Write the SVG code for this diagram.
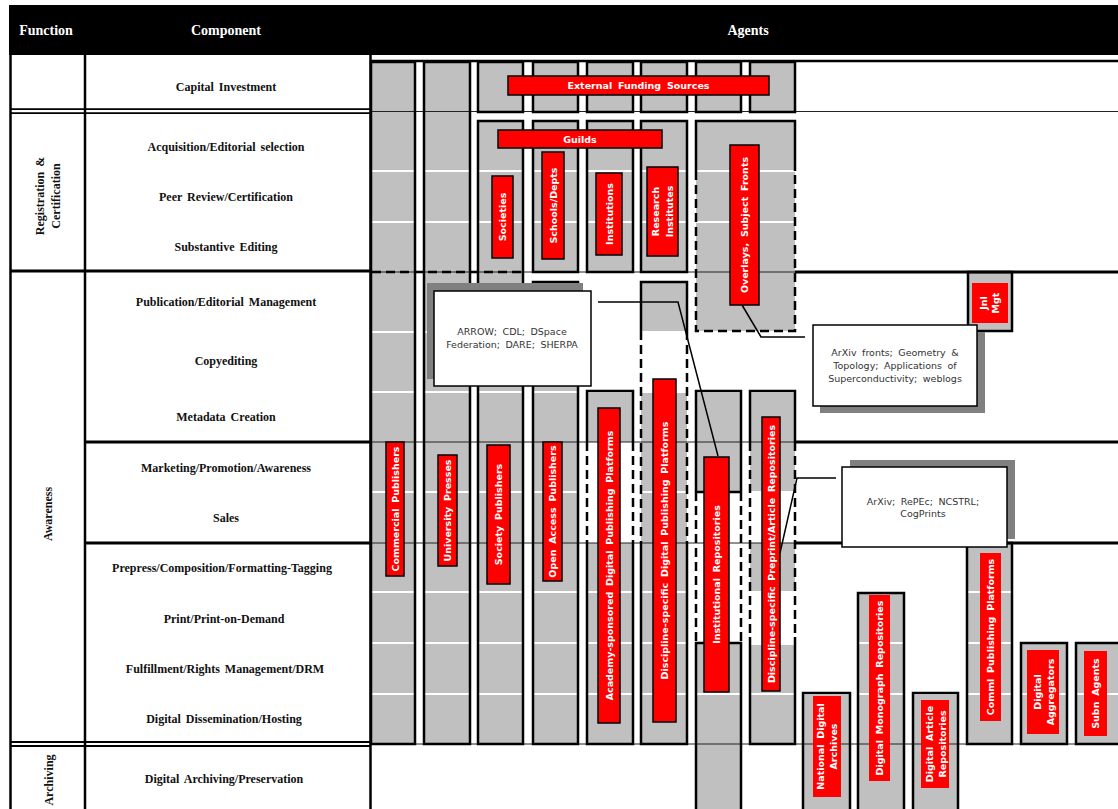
<svg xmlns="http://www.w3.org/2000/svg" width="1118" height="809" viewBox="0 0 1118 809">
<style>
.hdr{fill:#fff;font-family:"Liberation Serif",serif;font-weight:bold;font-size:14px;text-anchor:middle}
.comp{fill:#111;font-family:"Liberation Serif",serif;font-weight:bold;font-size:12px;text-anchor:middle;word-spacing:2px}
.tl{stroke:#000;fill:none}
.g{fill:#c0c0c0}
.bd{fill:none;stroke:#000;stroke-width:2.5}
.ds{fill:none;stroke:#000;stroke-width:2.5;stroke-dasharray:9 5}
.wl{stroke:#fff;stroke-width:2}
.thin{stroke:#222;stroke-width:1}
.thick{stroke:#000;stroke-width:3}
.bar{fill:#ff0000;stroke:#000;stroke-width:1.5}
.barn{fill:#ff0000}
.bt{fill:#fff;font-family:"DejaVu Sans",sans-serif;font-weight:bold;font-size:9.5px;text-anchor:middle;word-spacing:2.5px}
.sh{fill:#808080}
.cb{fill:#fff;stroke:#000;stroke-width:1.5}
.ct{fill:#333;font-family:"DejaVu Sans",sans-serif;font-size:9.5px;text-anchor:middle;word-spacing:2.5px}
.conn{fill:none;stroke:#000;stroke-width:1.5}
</style>

<!-- header -->
<g id="header">
<rect x="9" y="5" width="1109" height="50" fill="#000"/>
<text class="hdr" x="46" y="35">Function</text>
<text class="hdr" x="226" y="35">Component</text>
<text class="hdr" x="748" y="35">Agents</text>
</g>

<!-- table -->
<g id="table">
<path class="tl" stroke-width="2.5" d="M10.5,55 V809 M85,55 V809 M370.5,55 V809"/>
<path class="tl" stroke-width="1.8" d="M10,109.2 H370 M10,113.2 H370 M10,742 H370 M10,746 H370"/>
<path class="tl" stroke-width="3" d="M10,271 H370 M85,442 H370 M85,543 H370"/>
<text class="comp" x="226" y="91">Capital Investment</text>
<text class="comp" x="226" y="151">Acquisition/Editorial  selection</text>
<text class="comp" x="226" y="201">Peer Review/Certification</text>
<text class="comp" x="226" y="251">Substantive Editing</text>
<text class="comp" x="226" y="306">Publication/Editorial  Management</text>
<text class="comp" x="226" y="365">Copyediting</text>
<text class="comp" x="226" y="421">Metadata Creation</text>
<text class="comp" x="226" y="472">Marketing/Promotion/Awareness</text>
<text class="comp" x="226" y="522">Sales</text>
<text class="comp" x="222" y="572">Prepress/Composition/Formatting-Tagging</text>
<text class="comp" x="224" y="623">Print/Print-on-Demand</text>
<text class="comp" x="225" y="673">Fulfillment/Rights  Management/DRM</text>
<text class="comp" x="224" y="723">Digital Dissemination/Hosting</text>
<text class="comp" x="224" y="783">Digital Archiving/Preservation</text>
<g transform="translate(48,196) rotate(-90)">
<text class="comp" x="0" y="-4">Registration &amp;</text>
<text class="comp" x="0" y="12">Certification</text>
</g>
<text class="comp" transform="translate(48,514) rotate(-90)" y="4">Awareness</text>
<text class="comp" transform="translate(49,780) rotate(-90)" y="4">Archiving</text>
</g>

<!-- gray fills -->
<g id="fills" class="g">
<rect x="371" y="62" width="44" height="682"/>
<rect x="424" y="62" width="46" height="682"/>
<rect x="478" y="62" width="45" height="50"/><rect x="478" y="121" width="45" height="623"/>
<rect x="533" y="62" width="45" height="50"/><rect x="533" y="121" width="45" height="151"/><rect x="533" y="282" width="45" height="462"/>
<rect x="587" y="62" width="46" height="50"/><rect x="587" y="121" width="46" height="151"/><rect x="587" y="391" width="46" height="51"/><rect x="587" y="543" width="46" height="201"/>
<rect x="641" y="62" width="46" height="50"/><rect x="641" y="121" width="46" height="151"/><rect x="641" y="282" width="46" height="50"/><rect x="641" y="392" width="46" height="352"/>
<rect x="696" y="62" width="45" height="50"/><rect x="750" y="62" width="45" height="50"/>
<rect x="696" y="121" width="99" height="210"/>
<rect x="696" y="391" width="45" height="101"/><rect x="696" y="643" width="45" height="170"/>
<rect x="750" y="391" width="45" height="101"/><rect x="750" y="543" width="45" height="49"/><rect x="750" y="645" width="45" height="99"/>
<rect x="968" y="272" width="44" height="59"/>
<rect x="967" y="543" width="45" height="201"/>
<rect x="803" y="693" width="47" height="120"/>
<rect x="858" y="593" width="46" height="220"/>
<rect x="913" y="693" width="45" height="120"/>
<rect x="1021" y="643" width="46" height="101"/>
<rect x="1076" y="643" width="46" height="101"/>
</g>

<!-- row separators -->
<g id="separators">
<path class="wl" d="M372,171 H1118 M372,222 H1118 M372,332 H1118 M372,392 H1118 M372,492 H1118 M372,592 H1118 M372,643 H1118 M372,694 H1118"/>
<path class="thin" d="M370,111.5 H1118 M370,272 H795 M370,442 H795 M370,543 H795 M370,744 H1118"/>
<path class="tl" stroke-width="2.5" d="M370,61 H1118"/>
<path class="ds" stroke-dasharray="8 5" d="M372,272 H523"/>
<path class="thick" d="M795,272 H1118 M795,442 H1118 M795,543 H1118"/>
</g>

<!-- column borders -->
<g id="col-commercial"><rect class="bd" x="371" y="62" width="44" height="682"/></g>
<g id="col-university"><rect class="bd" x="424" y="62" width="46" height="682"/></g>
<g id="col-society"><rect class="bd" x="478" y="62" width="45" height="50"/><rect class="bd" x="478" y="121" width="45" height="623"/></g>
<g id="col-openaccess"><rect class="bd" x="533" y="62" width="45" height="50"/><rect class="bd" x="533" y="121" width="45" height="151"/><rect class="bd" x="533" y="282" width="45" height="462"/></g>
<g id="col-academy"><rect class="bd" x="587" y="62" width="46" height="50"/><rect class="bd" x="587" y="121" width="46" height="151"/>
<path class="bd" d="M587,442 V391 H633 V442"/><path class="ds" d="M587,442 V543 M633,442 V543"/><path class="bd" d="M587,543 V744 H633 V543"/></g>
<g id="col-discipline"><rect class="bd" x="641" y="62" width="46" height="50"/><rect class="bd" x="641" y="121" width="46" height="151"/>
<path class="bd" d="M641,331 V282 H687 V331"/><path class="ds" d="M641,331 V543 M687,331 V543"/><path class="bd" d="M641,543 V744 H687 V543"/></g>
<g id="col-institutional"><rect class="bd" x="696" y="62" width="45" height="50"/>
<path class="bd" d="M696,492 V391 H741 V492 M696,492 H741"/><path class="ds" d="M696,492 V643 M741,492 V643"/><path class="bd" d="M696,812 V643 H741 V812"/></g>
<g id="col-preprint"><rect class="bd" x="750" y="62" width="45" height="50"/>
<path class="bd" d="M750,442 V391 H795 V442"/><path class="ds" d="M750,442 V637 M795,442 V637"/><path class="bd" d="M750,637 V744 H795 V637"/></g>
<g id="col-overlays"><path class="bd" d="M696,171 V121 H795 V171"/><path class="ds" d="M696,171 V331 H795 V171"/></g>
<g id="col-jnl"><rect class="bd" x="968" y="272" width="44" height="59"/></g>
<g id="col-comml"><rect class="bd" x="967" y="543" width="45" height="201"/></g>
<g id="col-national"><path class="bd" d="M803,812 V693 H850 V812"/></g>
<g id="col-monograph"><path class="bd" d="M858,812 V593 H904 V812"/></g>
<g id="col-article"><path class="bd" d="M913,812 V693 H958 V812"/></g>
<g id="col-aggregators"><rect class="bd" x="1021" y="643" width="46" height="101"/></g>
<g id="col-subn"><path class="bd" d="M1122,643 H1076 V744 H1122"/></g>

<!-- red agent bars -->
<g id="external-funding"><rect class="bar" x="508" y="76" width="261" height="19"/><text class="bt" x="638.5" y="89">External Funding Sources</text></g>
<g id="guilds"><rect class="bar" x="498" y="130" width="164" height="18" stroke="#ff8080"/><text class="bt" x="580" y="142.5">Guilds</text></g>
<g id="societies"><rect class="bar" x="492" y="176" width="21" height="82"/><text class="bt" transform="translate(502.5,217) rotate(-90)" y="3.5">Societies</text></g>
<g id="schools"><rect class="bar" x="542" y="152" width="22" height="107"/><text class="bt" transform="translate(553,205.5) rotate(-90)" y="3.5">Schools/Depts</text></g>
<g id="institutions"><rect class="bar" x="596" y="173" width="26" height="82"/><text class="bt" transform="translate(609,214) rotate(-90)" y="3.5">Institutions</text></g>
<g id="research"><rect class="bar" x="647" y="167" width="31" height="89"/><g transform="translate(662.5,211.5) rotate(-90)"><text class="bt" y="-4">Research</text><text class="bt" y="10">Institutes</text></g></g>
<g id="overlays"><rect class="bar" x="730" y="145" width="29" height="160"/><text class="bt" transform="translate(744.5,225) rotate(-90)" y="3.5">Overlays, Subject Fronts</text></g>
<g id="commercial"><rect class="bar" x="386" y="442" width="18" height="134"/><text class="bt" transform="translate(395,509) rotate(-90)" y="3.5">Commercial Publishers</text></g>
<g id="university"><rect class="bar" x="438" y="455" width="19" height="111"/><text class="bt" transform="translate(447.5,510.5) rotate(-90)" y="3.5">University Presses</text></g>
<g id="society"><rect class="bar" x="487" y="445" width="23" height="139"/><text class="bt" transform="translate(498.5,514.5) rotate(-90)" y="3.5">Society Publishers</text></g>
<g id="openaccess"><rect class="bar" x="543" y="442" width="19" height="139"/><text class="bt" transform="translate(552.5,511.5) rotate(-90)" y="3.5">Open Access Publishers</text></g>
<g id="academy"><rect class="bar" x="598" y="408" width="22" height="315"/><text class="bt" transform="translate(609,565.5) rotate(-90)" y="3.5">Academy-sponsored Digital Publishing Platforms</text></g>
<g id="discipline-dpp"><rect class="bar" x="653" y="379" width="23" height="343"/><text class="bt" transform="translate(664.5,550.5) rotate(-90)" y="3.5">Discipline-specific Digital Publishing Platforms</text></g>
<g id="institutional"><rect class="bar" x="704" y="457" width="25" height="235"/><text class="bt" transform="translate(716.5,574.5) rotate(-90)" y="3.5">Institutional Repositories</text></g>
<g id="preprint"><rect class="bar" x="762" y="417" width="18" height="274"/><text class="bt" transform="translate(771,554) rotate(-90)" y="3.5">Discipline-specific Preprint/Article Repositories</text></g>
<g id="jnlmgt"><rect class="barn" x="972" y="283" width="36" height="40"/><g transform="translate(990,303) rotate(-90)"><text class="bt" y="-3.5">Jnl</text><text class="bt" y="8.5">Mgt</text></g></g>
<g id="national"><rect class="barn" x="813" y="696" width="28" height="101"/><g transform="translate(827,746.5) rotate(-90)"><text class="bt" y="-3.5">National Digital</text><text class="bt" y="9.5">Archives</text></g></g>
<g id="monograph"><rect class="barn" x="869" y="595" width="21" height="186"/><text class="bt" transform="translate(879.5,688) rotate(-90)" y="3.5">Digital Monograph Repositories</text></g>
<g id="article"><rect class="barn" x="921" y="700" width="28" height="88"/><g transform="translate(935,744) rotate(-90)"><text class="bt" y="-2.5">Digital Article</text><text class="bt" y="11">Repositories</text></g></g>
<g id="comml"><rect class="barn" x="980" y="553" width="21" height="168"/><text class="bt" transform="translate(990.5,637) rotate(-90)" y="3.5">Comml Publishing Platforms</text></g>
<g id="aggregators"><rect class="barn" x="1027" y="650" width="32" height="84"/><g transform="translate(1043,692) rotate(-90)"><text class="bt" y="-2.5">Digital</text><text class="bt" y="11">Aggregators</text></g></g>
<g id="subn"><rect class="barn" x="1084" y="651" width="23" height="85"/><text class="bt" transform="translate(1095.5,693.5) rotate(-90)" y="3.5">Subn Agents</text></g>

<!-- callouts -->
<g id="callout-arrow"><rect class="sh" x="427" y="283" width="156" height="96"/><rect class="cb" x="434" y="291" width="157" height="95"/>
<text class="ct" x="512" y="334.5">ARROW; CDL; DSpace</text><text class="ct" x="512" y="347.5">Federation; DARE; SHERPA</text></g>
<g id="callout-arxiv-fronts"><rect class="sh" x="820" y="332" width="165" height="81"/><rect class="cb" x="813" y="325" width="164" height="81"/>
<text class="ct" x="895" y="355.5">ArXiv fronts; Geometry &amp;</text><text class="ct" x="895" y="368.5">Topology; Applications of</text><text class="ct" x="895" y="381.5">Superconductivity;  weblogs</text></g>
<g id="callout-arxiv"><rect class="sh" x="850" y="460" width="165" height="79"/><rect class="cb" x="842" y="467" width="165" height="80"/>
<text class="ct" x="923" y="504.5">ArXiv; RePEc; NCSTRL;</text><text class="ct" x="923" y="517">CogPrints</text></g>

<!-- connectors -->
<g id="connectors">
<polyline class="conn" points="598,302 678,302 718,456"/>
<polyline class="conn" points="742,305 761,337 805,337"/>
<polyline class="conn" points="836,478 797,478 780,553"/>
</g>
</svg>
